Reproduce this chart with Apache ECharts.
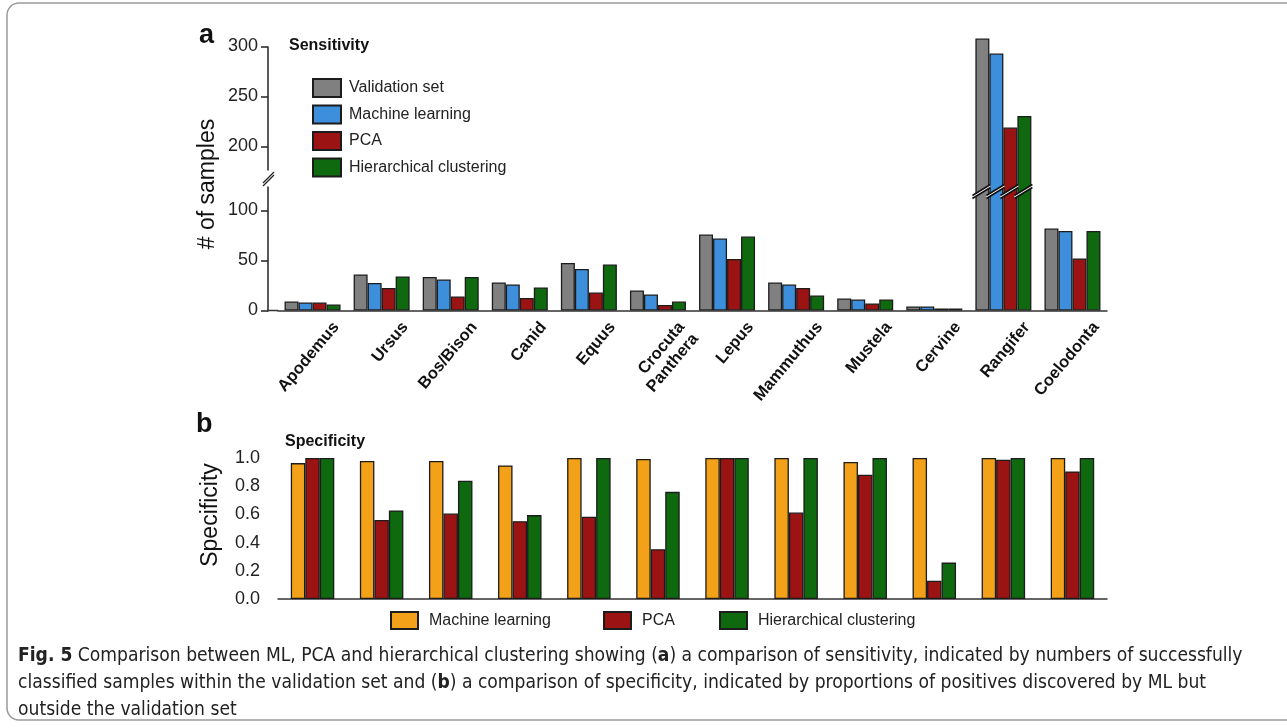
<!DOCTYPE html>
<html><head><meta charset="utf-8">
<script src="https://cdn.jsdelivr.net/npm/echarts@6/dist/echarts.min.js"></script>
<style>html,body{margin:0;padding:0;background:#fff}#c{width:1287px;height:728px}</style>
</head><body><div id="c"></div>
<script>
// ---- data ----
const categories = ['Apodemus','Ursus','Bos/Bison','Canid','Equus','Crocuta\nPanthera','Lepus','Mammuthus','Mustela','Cervine','Rangifer','Coelodonta'];
const sensValidation = [9, 36, 33.5, 28, 47.5, 20, 76, 28, 12, 4, 308, 82];
const sensML         = [8, 27.5, 31, 26, 41.5, 16, 72, 26, 11, 4, 293, 79.5];
const sensPCA        = [8, 22.5, 14, 12.5, 18, 5.5, 51.5, 22.5, 7, 2, 219, 52];
const sensHC         = [6, 34, 33.5, 23, 46, 9, 74, 15, 11, 2, 230.5, 79.5];
const specML  = [0.964, 0.979, 0.979, 0.947, 1.0, 0.993, 1.0, 1.0, 0.972, 1.0, 1.0, 1.0];
const specPCA = [1.0, 0.561, 0.606, 0.552, 0.583, 0.353, 1.0, 0.613, 0.881, 0.13, 0.988, 0.905];
const specHC  = [1.0, 0.628, 0.839, 0.595, 1.0, 0.76, 1.0, 1.0, 1.0, 0.258, 1.0, 1.0];
const sensTicks = [0, 50, 100, 200, 250, 300];
const sensBreak = [125, 175];
const specTicks = [0, 0.2, 0.4, 0.6, 0.8, 1.0];
const sensNames = ['Validation set', 'Machine learning', 'PCA', 'Hierarchical clustering'];
const specNames = ['Machine learning', 'PCA', 'Hierarchical clustering'];

// ---- style ----
const FONT = 'Liberation Sans, Arial, sans-serif';
const CAP_FONT = '"Liberation Sans Narrow", "DejaVu Sans Condensed", "Liberation Sans", sans-serif';
const sensColors = ['#808080', '#3d8fdc', '#9b1313', '#0f690f'];
const specColors = ['#f4a11a', '#9b1313', '#0f690f'];
const EDGE = '#1c1c1c';
const AXIS_OFFSET = 10;
const BAR_W = 14;

const chart = echarts.init(document.getElementById('c'), null, {renderer: 'canvas'});

const sensData = [sensValidation, sensML, sensPCA, sensHC];
const rangIdx = categories.indexOf('Rangifer');

const series = [];
sensData.forEach((arr, i) => {
  series.push({
    name: sensNames[i], type: 'bar', xAxisIndex: 0, yAxisIndex: 0,
    data: arr, barWidth: BAR_W, barGap: '0%', clip: false,
    itemStyle: {color: sensColors[i], borderColor: EDGE, borderWidth: 1.3},
    emphasis: {disabled: true}
  });
});
[specML, specPCA, specHC].forEach((arr, i) => {
  series.push({
    name: specNames[i] + ' (specificity)', type: 'bar', xAxisIndex: 1, yAxisIndex: 1,
    data: arr, barWidth: 14.5, barGap: '0%',
    itemStyle: {color: specColors[i], borderColor: EDGE, borderWidth: 1.3},
    emphasis: {disabled: true}
  });
});
// decorations: axis break marks and bar break marks
series.push({
  type: 'custom', xAxisIndex: 0, yAxisIndex: 0, z: 20, silent: true,
  data: [[rangIdx, 120]],
  renderItem: function (params, api) {
    const cs = params.coordSys;
    const ax = cs.x - AXIS_OFFSET;
    const yLowTop = api.coord([0, sensBreak[0]])[1] + 1;
    const yHighBot = api.coord([0, sensBreak[1]])[1] - 1;
    const y0 = api.coord([0, 0])[1];
    const children = [];
    // gap in y-axis line
    children.push({type: 'rect', shape: {x: ax - 2, y: yHighBot, width: 4, height: yLowTop - yHighBot},
      style: {fill: '#fff'}});
    const yc = (yLowTop + yHighBot) / 2;
    [-1.5, 1.5].forEach(d => {
      children.push({type: 'line', shape: {x1: ax - 5, y1: yc + 6 + d, x2: ax + 6, y2: yc - 5 + d},
        style: {stroke: '#222', lineWidth: 1.3}});
    });
    // extend baseline to the y axis
    children.push({type: 'line', shape: {x1: ax - 1, y1: y0, x2: cs.x, y2: y0},
      style: {stroke: '#333', lineWidth: 1.5}});
    // bar break marks
    const c = api.coord([api.value(0), api.value(1)]);
    const n = sensData.length;
    for (let i = 0; i < n; i++) {
      const l = c[0] - n * BAR_W / 2 + i * BAR_W - 3;
      const r = l + BAR_W + 4;
      const yb = c[1];
      children.push({type: 'polygon', shape: {points: [[l, yb + 5], [r, yb - 6], [r, yb - 3], [l, yb + 8]]},
        style: {fill: '#fff'}});
      children.push({type: 'line', shape: {x1: l, y1: yb + 5, x2: r, y2: yb - 6}, style: {stroke: '#111', lineWidth: 1.6}});
      children.push({type: 'line', shape: {x1: l, y1: yb + 8, x2: r, y2: yb - 3}, style: {stroke: '#111', lineWidth: 1.6}});
    }
    return {type: 'group', children: children};
  }
});

const legendCommon = {
  icon: 'rect', itemWidth: 28, itemHeight: 18,
  textStyle: {fontFamily: FONT, fontSize: 16, color: '#222', padding: [0, 0, 0, 3]},
  selectedMode: false
};
function specLegend(i, left) {
  return Object.assign({}, legendCommon, {
    data: [specNames[i] + ' (specificity)'], left: left, top: 606, itemWidth: 27, itemHeight: 17,
    formatter: n => n.replace(' (specificity)', ''),
    textStyle: Object.assign({}, legendCommon.textStyle, {padding: [0, 0, 0, 6]})
  });
}

const option = {
  animation: false,
  backgroundColor: '#fff',
  textStyle: {fontFamily: FONT},
  grid: [
    {left: 278, width: 829, top: 46.5, height: 264},
    {left: 278, width: 829, top: 458, height: 141}
  ],
  xAxis: [
    {type: 'category', gridIndex: 0, data: categories,
     axisLine: {lineStyle: {color: '#333', width: 1.5}}, axisTick: {show: false},
     axisLabel: {interval: 0, rotate: 50, align: 'right', verticalAlign: 'top', padding: [0, -26, 0, 0],
       fontFamily: FONT, fontWeight: 'bold', fontSize: 16.5, color: '#111', margin: 28, lineHeight: 18}},
    {type: 'category', gridIndex: 1, data: categories,
     axisLine: {lineStyle: {color: '#333', width: 1.5}}, axisTick: {show: false}, axisLabel: {show: false}}
  ],
  yAxis: [
    {type: 'value', gridIndex: 0, min: 0, max: 300, offset: AXIS_OFFSET,
     breaks: [{start: sensBreak[0], end: sensBreak[1], gap: 14}],
     breakArea: {show: false},
     axisLine: {show: true, lineStyle: {color: '#222', width: 1.5}},
     axisTick: {show: true, length: 7, customValues: sensTicks, lineStyle: {color: '#222', width: 1.5}},
     axisLabel: {customValues: sensTicks, fontFamily: FONT, fontSize: 18, color: '#222', margin: 10},
     splitLine: {show: false}},
    {type: 'value', gridIndex: 1, min: 0, max: 1, interval: 0.2,
     axisLine: {show: false}, axisTick: {show: false},
     axisLabel: {customValues: specTicks, formatter: v => v.toFixed(1), fontFamily: FONT, fontSize: 18, color: '#222', margin: 18},
     splitLine: {show: false}}
  ],
  legend: [
    Object.assign({}, legendCommon, {data: sensNames, orient: 'vertical', left: 307, top: 73, itemGap: 6.5}),
    specLegend(0, 385), specLegend(1, 598), specLegend(2, 714)
  ],
  graphic: [
    {type: 'rect', z: -10, shape: {x: 7, y: 3, width: 1320, height: 717, r: 12},
     style: {fill: 'none', stroke: '#9a9a9a', lineWidth: 1.5}},
    {type: 'text', x: 199, y: 22, style: {text: 'a', font: 'bold 27px ' + FONT, fill: '#111'}},
    {type: 'text', x: 289, y: 38, style: {text: 'Sensitivity', font: 'bold 16px ' + FONT, fill: '#111'}},
    {type: 'text', x: 208, y: 184, rotation: Math.PI / 2,
     style: {text: '# of samples', font: '23px ' + FONT, fill: '#111', align: 'center', verticalAlign: 'middle'}},
    {type: 'text', x: 196, y: 411, style: {text: 'b', font: 'bold 27px ' + FONT, fill: '#111'}},
    {type: 'text', x: 285, y: 434, style: {text: 'Specificity', font: 'bold 16px ' + FONT, fill: '#111'}},
    {type: 'text', x: 211, y: 515, rotation: Math.PI / 2,
     style: {text: 'Specificity', font: '23px ' + FONT, fill: '#111', align: 'center', verticalAlign: 'middle'}},
    {type: 'text', x: 18, y: 643, style: {
      text: '{b|Fig. 5} Comparison between ML, PCA and hierarchical clustering showing ({b|a}) a comparison of sensitivity, indicated by numbers of successfully\nclassified samples within the validation set and ({b|b}) a comparison of specificity, indicated by proportions of positives discovered by ML but\noutside the validation set',
      font: '19.1px ' + CAP_FONT, fill: '#222', lineHeight: 27,
      rich: {b: {font: 'bold 19.1px ' + CAP_FONT, fill: '#222', lineHeight: 27}}
    }}
  ],
  series: series
};
chart.setOption(option);
</script></body></html>
